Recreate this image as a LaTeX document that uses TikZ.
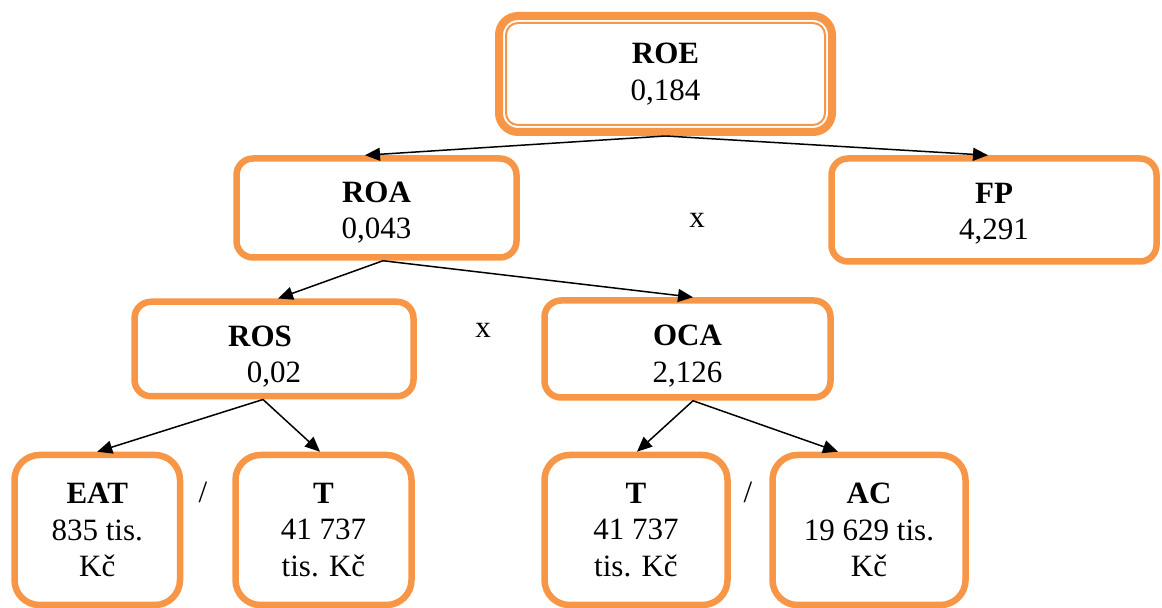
\documentclass[tikz,border=0pt]{standalone}
\usepackage{fontspec}
\setmainfont{Liberation Serif}
\usetikzlibrary{arrows.meta}
\definecolor{boxorange}{RGB}{247,150,70}
\newcommand{\lift}[1]{\rule{0pt}{\dimexpr10.3pt+#1\relax}}
\tikzset{
  box/.style={draw=boxorange, line width=3.25pt, rounded corners=8.25pt, inner sep=0pt,
    align=center, font=\fontsize{15.5}{18.25}\selectfont},
  leaf/.style={box, rounded corners=12.5pt, minimum height=75pt},
  op/.style={inner sep=0pt, font=\fontsize{15.5}{18.25}\selectfont},
  arr/.style={-{Triangle[length=7.5pt,width=6.5pt]}, line width=0.75pt},
}
\begin{document}
\begin{tikzpicture}[x=0.5pt, y=-0.5pt]
    \useasboundingbox (0,0) rectangle (1162,608);

    % top
    \node[box, line width=4pt, rounded corners=9.5pt, minimum width=166.5pt, minimum height=58pt] (roe) at (665.5,74) {\textbf{ROE}\\0,184};
    \draw[boxorange, line width=1pt, rounded corners=6pt] ([shift={(5.5pt,-5.5pt)}]roe.north west) rectangle ([shift={(-5.5pt,5.5pt)}]roe.south east);

    % second and third level
    \node[box, minimum width=140pt, minimum height=49.5pt] (roa) at (376.5,208) {\lift{4.5pt}\textbf{ROA}\\0,043};
    \node[box, minimum width=162.5pt, minimum height=51.5pt] (fp) at (994,210) {\lift{3.5pt}\textbf{FP}\\4,291};
    \node[box, minimum width=139.5pt, minimum height=47.25pt] (ros) at (274,349) {\lift{7.5pt}\textbf{ROS}\hspace*{14pt}\\0,02};
    \node[box, minimum width=143pt, minimum height=48.5pt] (oca) at (687.5,349) {\lift{7pt}\textbf{OCA}\\2,126};

    % bottom
    \node[leaf, minimum width=82.75pt] (eat) at (97.25,530) {\textbf{EAT}\\835 tis.\\Kč};
    \node[leaf, minimum width=88pt] (ta) at (323.5,530) {\textbf{T}\\41 737\\tis. Kč};
    \node[leaf, minimum width=91.5pt] (tb) at (636,530) {\textbf{T}\\41 737\\tis. Kč};
    \node[leaf, minimum width=96.5pt] (ac) at (869,530) {\textbf{AC}\\19 629 tis.\\Kč};

    \node[op] (x1) at (697,220) {x};
    \node[op] (x2) at (483,330) {x};
    \node[op] (d1) at (203,492) {/};
    \node[op] (d2) at (748,492) {/};

    \foreach \a/\sa/\b/\sb in {roe/0/roa/-5.75, roe/0/fp/-3, roa/3.25/ros/2, roa/3.25/oca/2.75,
        ros/-5.5/eat/0, ros/-5.5/ta/-1.75, oca/2.75/tb/0.5, oca/2.75/ac/-15.5}
        \draw[arr] ([xshift=\sa pt]\a.south) -- ([xshift=\sb pt]\b.north);

\end{tikzpicture}
\end{document}
